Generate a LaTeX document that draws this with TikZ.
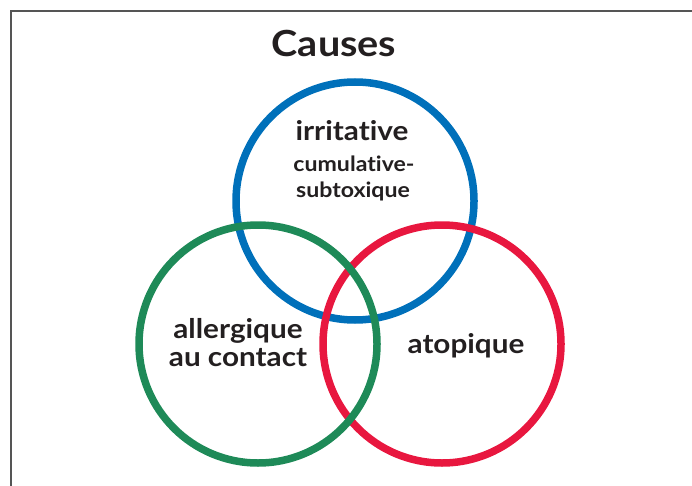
\documentclass[tikz,border=0pt]{standalone}
\usepackage{fontspec}
\setmainfont[FakeStretch=1.1,Ligatures={NoCommon}]{Lato}
\definecolor{cblue}{HTML}{0070BA}
\definecolor{cred}{HTML}{E8173F}
\definecolor{cgreen}{HTML}{1E8A58}
\definecolor{ctext}{HTML}{231F20}
\definecolor{cframe}{HTML}{555555}
\begin{document}
\begin{tikzpicture}[x=1pt,y=-1pt,
  ring/.style={circle,draw,line width=7.5pt,minimum size=238pt,inner sep=0pt},
  lbl/.style={anchor=base,text=ctext,inner sep=0pt,font=\bfseries\fontsize{27}{32}\selectfont},
  smalllbl/.style={anchor=base,text=ctext,inner sep=0pt,font=\bfseries\fontsize{21}{25}\selectfont}]
\useasboundingbox (0,0) rectangle (692,486);
\draw[cframe,line width=1.5pt] (11,490) -- (11,11) -- (695,11);
\node[ring,draw=cblue] (blue) at (355,201) {};
\node[ring,draw=cred] (red) at (442,344) {};
\node[ring,draw=cgreen] (green) at (258,344) {};
\node[anchor=base,text=ctext,inner sep=0pt,font=\bfseries\fontsize{36}{40}\selectfont] (title) at (334,57) {Causes};
\node[lbl] (irr) at (352,141) {irritative};
\node[smalllbl] (cum) at (354,172) {cumulative-};
\node[smalllbl] (sub) at (353,197) {subtoxique};
\node[lbl] (all) at (238,338) {allergique};
\node[lbl] (auc) at (238,366) {au contact};
\node[lbl] (ato) at (466,353) {atopique};
\end{tikzpicture}
\end{document}
